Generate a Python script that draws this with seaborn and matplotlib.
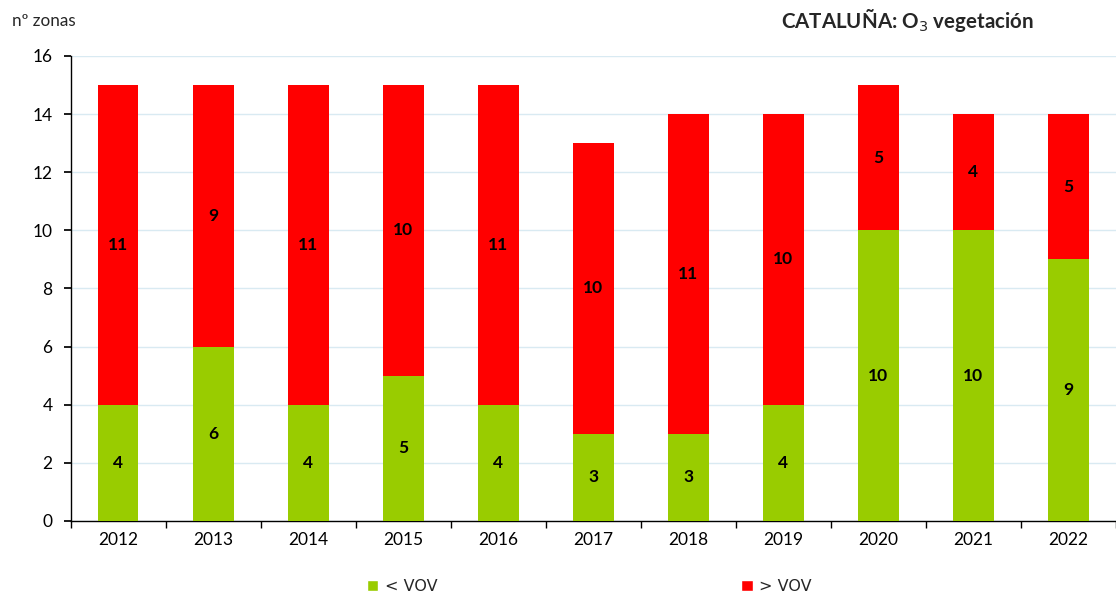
import matplotlib
matplotlib.use("Agg")
import matplotlib.pyplot as plt
import seaborn as sns
import pandas as pd
from matplotlib.patches import Patch

# Zones per year below / above the vegetation objective value (VOV)
years = ["2012", "2013", "2014", "2015", "2016", "2017", "2018", "2019", "2020", "2021", "2022"]
below_vov = [4, 6, 4, 5, 4, 3, 3, 4, 10, 10, 9]
above_vov = [11, 9, 11, 10, 11, 10, 11, 10, 5, 4, 5]

GREEN = "#99CC00"
RED = "#FF0000"

sns.set_theme(style="white")
plt.rcParams["font.family"] = ["Lato", "DejaVu Sans"]

df = pd.DataFrame({"year": years, "below": below_vov, "above": above_vov})

fig = plt.figure(figsize=(11.16, 5.95), dpi=100)
ax = fig.add_axes([0.0632, 0.1244, 0.9368, 0.7816])

sns.barplot(data=df, x="year", y="below", color=GREEN, width=0.43,
            saturation=1, ax=ax, zorder=3, linewidth=0, edgecolor="none")
sns.barplot(data=df, x="year", y="above", color=RED, width=0.43,
            saturation=1, ax=ax, bottom=df["below"].to_numpy(), zorder=3,
            linewidth=0, edgecolor="none")

# Segment value labels
for i, (b, a) in enumerate(zip(below_vov, above_vov)):
    ax.text(i, b / 2, str(b), ha="center", va="center", fontsize=12.5,
            fontweight="bold", color="black", zorder=4)
    ax.text(i, b + a / 2, str(a), ha="center", va="center", fontsize=12.5,
            fontweight="bold", color="black", zorder=4)

ax.set_ylim(0, 16)
ax.set_yticks(range(0, 17, 2))
ax.set_xlim(-0.5, len(years) - 0.5)
ax.yaxis.grid(True, color="#D9EAF2", linewidth=1, zorder=0)
ax.set_axisbelow(True)

ax.set_xlabel("")
ax.set_ylabel("")
ax.tick_params(axis="both", labelsize=12.5, colors="black", length=0, pad=8)
ax.set_xticks(range(len(years)))
ax.set_xticklabels(years)
# Tick marks between categories on x, outward ticks on y
ax.set_xticks([i + 0.5 for i in range(-1, len(years))], minor=True)
ax.tick_params(axis="x", which="minor", length=5, direction="out", color="black", bottom=True)
ax.tick_params(axis="y", which="major", length=5, direction="out", color="black", left=True)

for side in ["top", "right"]:
    ax.spines[side].set_visible(False)
for side in ["left", "bottom"]:
    ax.spines[side].set_color("black")
    ax.spines[side].set_linewidth(1)

fig.text(0.011, 0.965, "nº zonas", fontsize=12.3, ha="left", va="center")
fig.text(0.926, 0.965, "CATALUÑA: O$_3$ vegetación", fontsize=14.8,
         fontweight="bold", ha="right", va="center")

handles = [Patch(facecolor=GREEN, label="< VOV"), Patch(facecolor=RED, label="> VOV")]
fig.legend(handles=handles, loc="center", bbox_to_anchor=(0.528, 0.014),
           ncol=2, frameon=False, handlelength=0.75, handleheight=0.75,
           handletextpad=0.4, columnspacing=19.0,
           prop={"family": "DejaVu Sans", "size": 11.5})

fig.savefig("out.png", dpi=100)
